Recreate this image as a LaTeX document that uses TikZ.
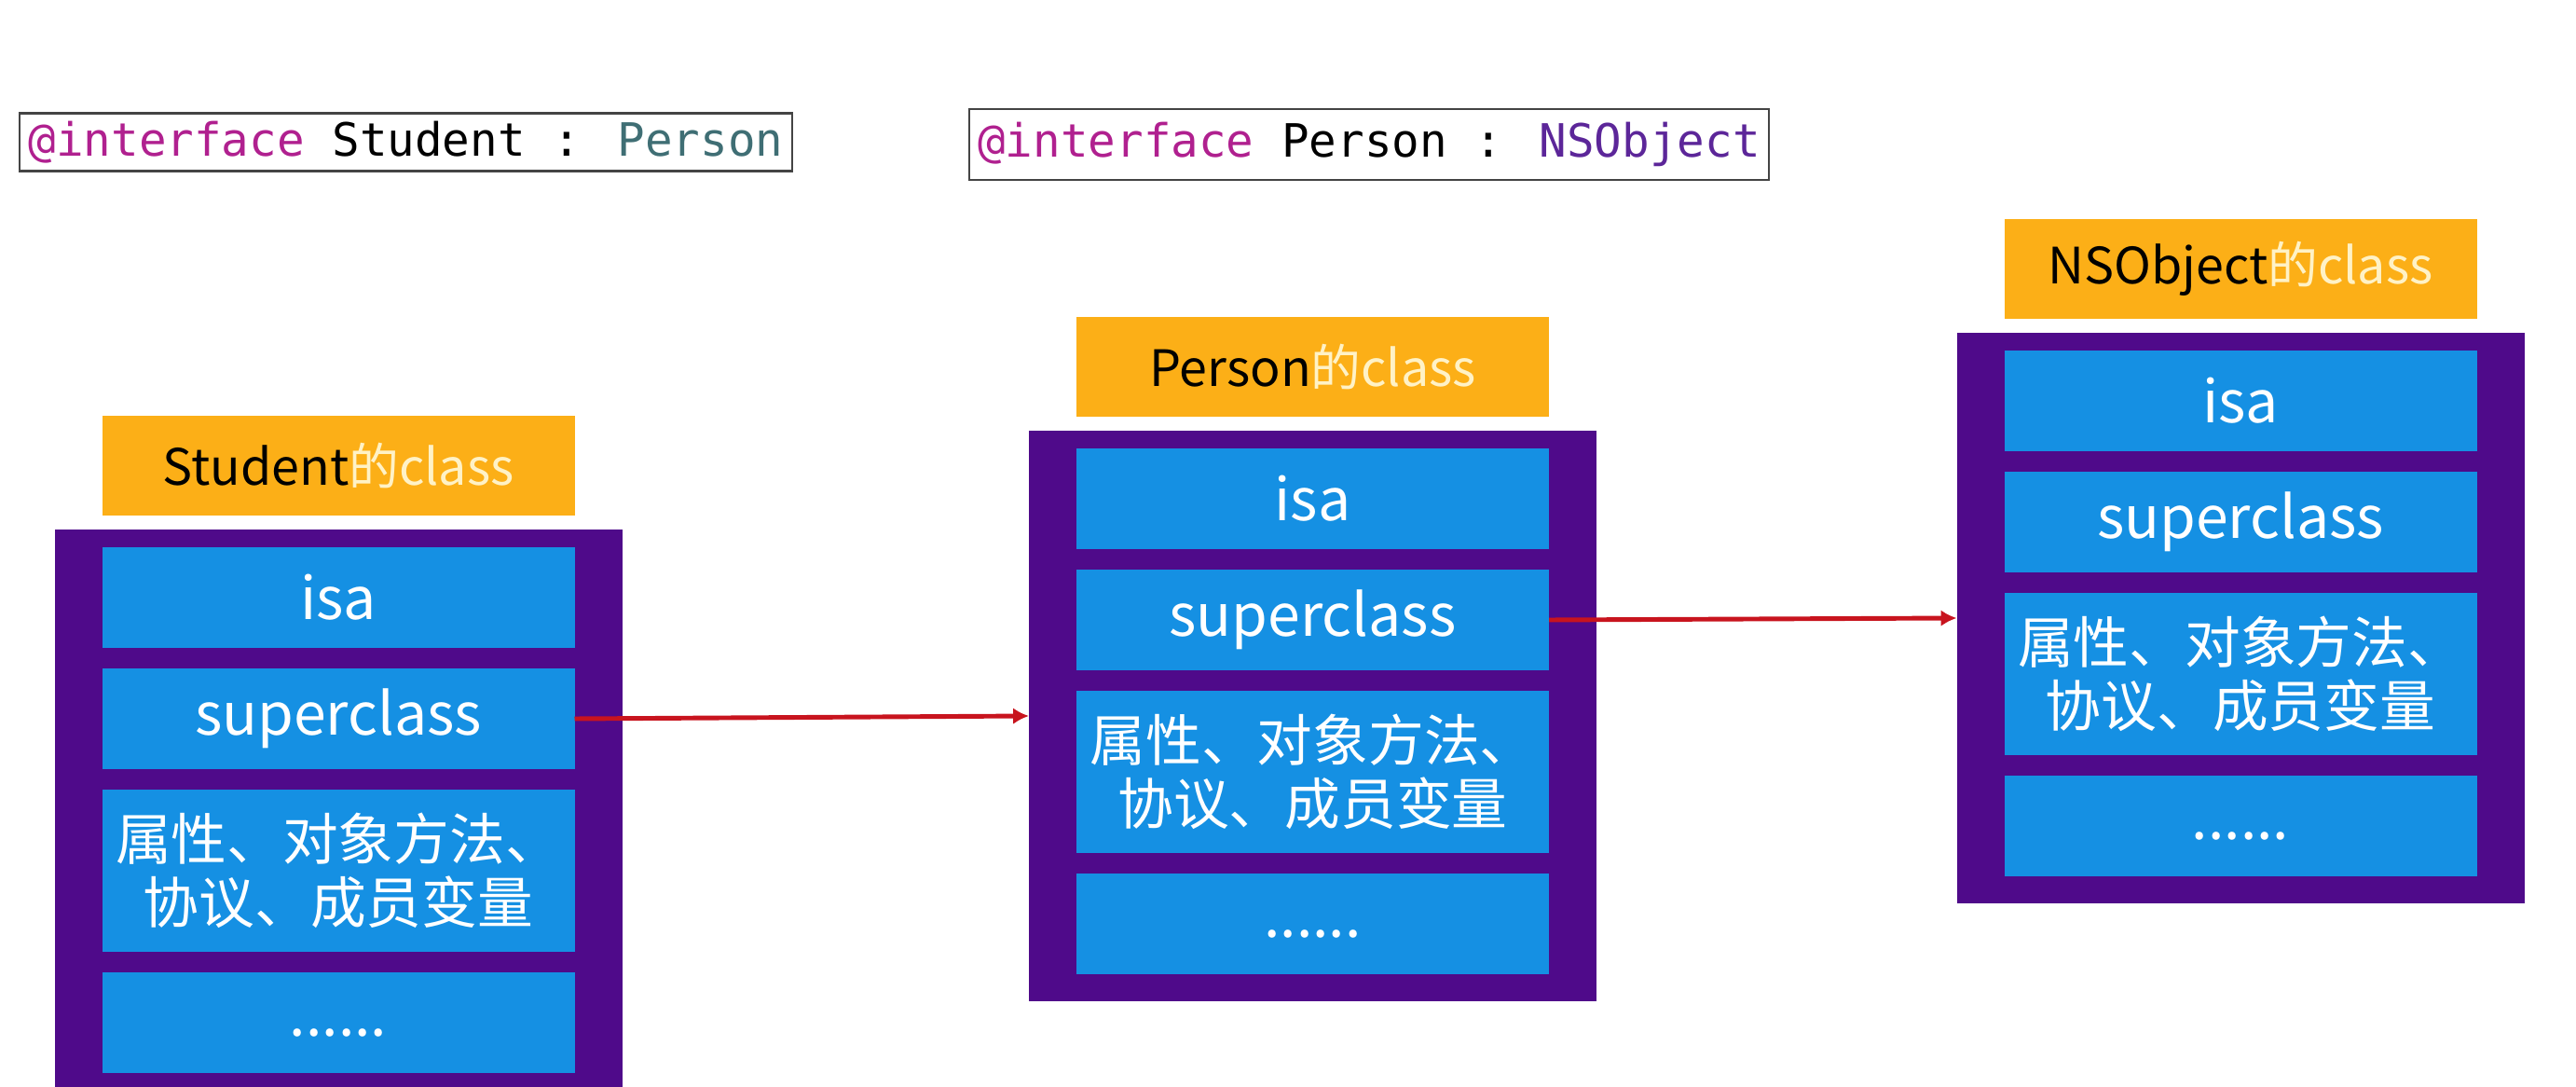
\documentclass[tikz,border=0pt]{standalone}
\usepackage{fontspec}
\usepackage{xcolor}
\usepackage{tikz}
\usetikzlibrary{arrows.meta,positioning}
\newfontfamily\cjkfont{Noto Sans CJK SC}
\newfontfamily\codefont{DejaVu Sans Mono}
\definecolor{boxpurple}{HTML}{4F0A8A}
\definecolor{slotblue}{HTML}{1590E3}
\definecolor{headorange}{HTML}{FCAF17}
\definecolor{headtext}{HTML}{FFF2C6}
\definecolor{linkred}{HTML}{C8141E}
\definecolor{codegray}{HTML}{444444}
\definecolor{kwpink}{HTML}{B0208F}
\definecolor{clsteal}{HTML}{3F6E74}
\definecolor{syspurple}{HTML}{5C2699}

\begin{document}
\begin{tikzpicture}[every node/.style={inner sep=0pt, outer sep=0pt},
  classbox/.style={fill=boxpurple, minimum width=6.09cm, minimum height=6.12cm},
  header/.style={fill=headorange, minimum width=5.07cm, minimum height=1.07cm, font=\cjkfont\fontsize{15.3}{18}\selectfont},
  slot/.style={fill=slotblue, minimum width=5.07cm, minimum height=1.08cm, text=white, font=\cjkfont\fontsize{17.8}{21}\selectfont},
  tallslot/.style={slot, minimum height=1.74cm, align=center, font=\cjkfont\fontsize{17}{19.5}\selectfont},
  codebox/.style={draw=codegray, line width=0.7pt, minimum height=0.62cm, font=\codefont\fontsize{14}{16}\selectfont},
  superlink/.style={line width=1.4pt, linkred, -{Latex[length=4.8pt,width=5pt]}}]
  \useasboundingbox (0,0) rectangle (27.64,11.66);

  % interface lines
  \node[codebox, minimum width=8.29cm] (stucode) at (4.355,10.135) {\textcolor{kwpink}{@interface} Student : \textcolor{clsteal}{Person}};
  \node[codebox, minimum width=8.58cm, minimum height=0.76cm] (percode) at (14.69,10.11) {\textcolor{kwpink}{@interface} Person : \textcolor{syspurple}{NSObject}};

  % Student
  \node[classbox] (stu) at (3.63,2.92) {};
  \node[header, above=0.15cm of stu] (stuhead) {Student\textcolor{headtext}{的class}};
  \node[slot, below=0.19cm of stu.north] (stuisa) {isa};
  \node[slot, below=0.22cm of stuisa] (stusup) {superclass};
  \node[tallslot, below=0.22cm of stusup] (stuattr) {属性、对象方法、\\协议、成员变量};
  \node[slot, below=0.22cm of stuattr] (studots) {\strut......};

  % Person
  \node[classbox] (per) at (14.085,3.98) {};
  \node[header, above=0.15cm of per] (perhead) {Person\textcolor{headtext}{的class}};
  \node[slot, below=0.19cm of per.north] (perisa) {isa};
  \node[slot, below=0.22cm of perisa] (persup) {superclass};
  \node[tallslot, below=0.22cm of persup] (perattr) {属性、对象方法、\\协议、成员变量};
  \node[slot, below=0.22cm of perattr] (perdots) {\strut......};

  % NSObject
  \node[classbox] (obj) at (24.04,5.03) {};
  \node[header, above=0.15cm of obj] (objhead) {NSObject\textcolor{headtext}{的class}};
  \node[slot, below=0.19cm of obj.north] (objisa) {isa};
  \node[slot, below=0.22cm of objisa] (objsup) {superclass};
  \node[tallslot, below=0.22cm of objsup] (objattr) {属性、对象方法、\\协议、成员变量};
  \node[slot, below=0.22cm of objattr] (objdots) {\strut......};

  \draw[superlink] (stusup.east) -- (per.west);
  \draw[superlink] (persup.east) -- (obj.west);
\end{tikzpicture}
\end{document}
